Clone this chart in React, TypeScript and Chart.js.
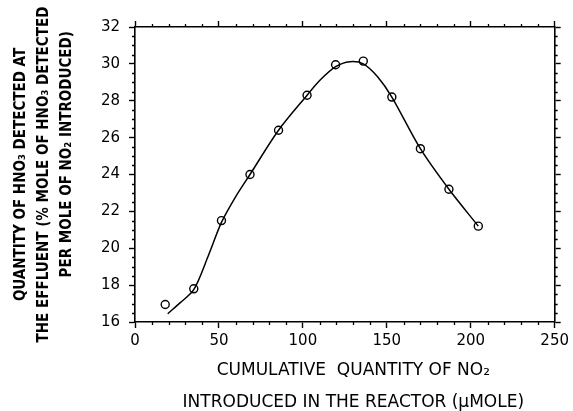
import React, { useEffect, useRef } from 'react';
import { Chart, registerables } from 'chart.js';

Chart.register(...registerables);

// Measured points (open circles)
const pointX = [18, 35, 51.5, 68.5, 85.5, 102.5, 119.5, 136, 153, 170, 187, 204.5];
const pointY = [16.95, 17.8, 21.5, 24.0, 26.4, 28.3, 29.95, 30.15, 28.2, 25.4, 23.2, 21.2];

// Smooth fitted curve
const curveX = [19.5, 27, 35, 43.5, 51.5, 60, 68.5, 85.5, 102.5, 110, 119.5, 128, 136, 144.5, 153, 170, 187, 204.5];
const curveY = [16.45, 17.05, 17.75, 19.55, 21.4, 22.8, 24.0, 26.4, 28.3, 29.1, 29.85, 30.12, 30.0, 29.3, 28.2, 25.4, 23.2, 21.2];

const X_MIN = 0;
const X_MAX = 250;
const X_MAJOR = 50;
const X_MINOR = 10;
const Y_MIN = 16;
const Y_MAX = 32;
const Y_MAJOR = 2;
const Y_MINOR = 0.5;

const yTitle = [
  'QUANTITY OF HNO₃ DETECTED AT',
  'THE EFFLUENT (% MOLE OF HNO₃ DETECTED',
  '\u2003\u2003\u2003PER MOLE OF NO₂ INTRODUCED)',
];
const xTitle = ['\u2003CUMULATIVE  QUANTITY OF NO₂', '\u2003INTRODUCED IN THE REACTOR (μMOLE)'];

const minorTicks = {
  id: 'minorTicks',
  afterDraw(chart: any) {
    const ctx = chart.ctx;
    const xs = chart.scales.x;
    const ys = chart.scales.y;
    const a = chart.chartArea;
    const L = 3;
    ctx.save();
    ctx.strokeStyle = '#000';
    ctx.lineWidth = 1.3;
    ctx.beginPath();
    for (let i = 0; X_MIN + i * X_MINOR <= X_MAX; i++) {
      const v = X_MIN + i * X_MINOR;
      if (Math.abs(v % X_MAJOR) < 1e-9) continue;
      const px = Math.round(xs.getPixelForValue(v)) + 0.5;
      ctx.moveTo(px, a.bottom);
      ctx.lineTo(px, a.bottom + L);
      ctx.moveTo(px, a.top);
      ctx.lineTo(px, a.top - L);
    }
    for (let i = 0; Y_MIN + i * Y_MINOR <= Y_MAX; i++) {
      const v = Y_MIN + i * Y_MINOR;
      if (Math.abs(v % Y_MAJOR) < 1e-9) continue;
      const py = Math.round(ys.getPixelForValue(v)) + 0.5;
      ctx.moveTo(a.left, py);
      ctx.lineTo(a.left - L, py);
      ctx.moveTo(a.right, py);
      ctx.lineTo(a.right + L, py);
    }
    ctx.stroke();
    ctx.restore();
  },
};

const tickFont = { family: 'DejaVu Sans', size: 15 };

function axisCommon() {
  return {
    border: { display: true, color: '#000', width: 1.6 },
    grid: {
      drawOnChartArea: false,
      drawTicks: true,
      tickLength: 6,
      tickColor: '#000',
      tickWidth: 1.4,
    },
  };
}

export default function App() {
  const ref = useRef<HTMLCanvasElement>(null);

  useEffect(() => {
    if (!ref.current) return;
    const chart = new Chart(ref.current, {
      type: 'scatter',
      data: {
        datasets: [
          {
            label: 'fit',
            data: curveX.map((x, i) => ({ x, y: curveY[i] })),
            showLine: true,
            borderColor: '#000',
            borderWidth: 1.5,
            pointRadius: 0,
            tension: 0.3,
            fill: false,
          } as any,
          {
            label: 'measured',
            data: pointX.map((x, i) => ({ x, y: pointY[i] })),
            showLine: false,
            pointStyle: 'circle',
            pointRadius: 4,
            pointBorderWidth: 1.4,
            pointBorderColor: '#000',
            pointBackgroundColor: 'rgba(0,0,0,0)',
          } as any,
        ],
      },
      options: {
        animation: false,
        responsive: false,
        devicePixelRatio: 1,
        layout: { padding: 0 },
        plugins: {
          legend: { display: false },
          tooltip: { enabled: false },
        },
        scales: {
          x: {
            type: 'linear',
            position: 'bottom',
            min: X_MIN,
            max: X_MAX,
            ...axisCommon(),
            ticks: { stepSize: X_MAJOR, color: '#000', font: tickFont, padding: 4, maxRotation: 0 },
            title: {
              display: true,
              text: xTitle,
              color: '#000',
              font: { family: 'DejaVu Sans', size: 17, lineHeight: 31.5 / 17 },
              padding: { top: 0, bottom: -7.25 },
            },
            afterFit: (s: any) => {
              s.height = 89;
            },
          },
          x2: {
            type: 'linear',
            position: 'top',
            min: X_MIN,
            max: X_MAX,
            ...axisCommon(),
            ticks: { stepSize: X_MAJOR, display: false },
            afterFit: (s: any) => {
              s.height = 27;
            },
          },
          y: {
            type: 'linear',
            position: 'left',
            min: Y_MIN,
            max: Y_MAX,
            ...axisCommon(),
            ticks: { stepSize: Y_MAJOR, color: '#000', font: tickFont, padding: 9 },
            title: {
              display: true,
              text: yTitle,
              color: '#000',
              font: { family: 'DejaVu Sans Condensed', weight: 'bold', size: 15, lineHeight: 23 / 15 },
              padding: { top: 9.5, bottom: 0 },
            },
            afterFit: (s: any) => {
              s.width = 135;
            },
          },
          y2: {
            type: 'linear',
            position: 'right',
            min: Y_MIN,
            max: Y_MAX,
            ...axisCommon(),
            ticks: { stepSize: Y_MAJOR, display: false },
            afterFit: (s: any) => {
              s.width = 16;
            },
          },
        },
      } as any,
      plugins: [minorTicks],
    });
    return () => chart.destroy();
  }, []);

  return (
    <div style={{ position: 'absolute', left: 0, top: 0, width: 573, height: 411, background: '#fff' }}>
      <canvas ref={ref} width={573} height={411} style={{ display: 'block', width: 573, height: 411 }} />
    </div>
  );
}
